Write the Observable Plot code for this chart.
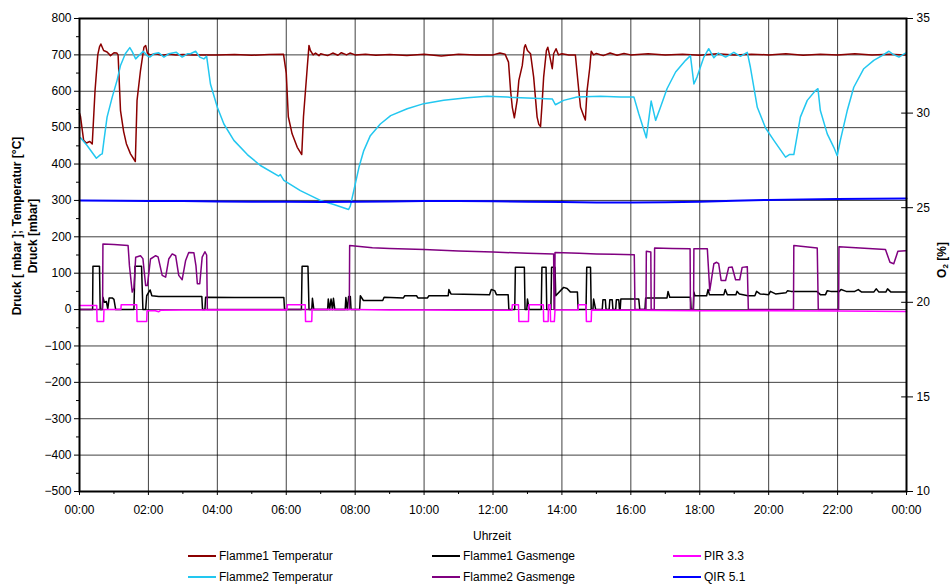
<!DOCTYPE html>
<html><head><meta charset="utf-8">
<script src="https://cdn.jsdelivr.net/npm/d3@7"></script>
<script src="https://cdn.jsdelivr.net/npm/@observablehq/plot@0.6"></script>
<style>
body{margin:0;background:#fff;font-family:"Liberation Sans",Arial,sans-serif;}
#wrap{position:relative;width:952px;height:584px;overflow:hidden;}
.leg{position:absolute;font-size:12px;color:#000;white-space:nowrap;display:flex;align-items:center;}
.leg span.sw{display:inline-block;width:28px;height:0;border-top:2px solid;margin-right:3px;}
</style></head><body><div id="wrap"></div>
<script>
// ---- data: [hour, value] ----
const f1Temp = [[0.0,540],[0.03,530],[0.12,465],[0.2,458],[0.3,462],[0.37,455],[0.45,600],[0.53,700],[0.58,722],[0.62,730],[0.7,712],[0.8,708],[0.9,698],[1.0,706],[1.08,705],[1.12,700],[1.19,547],[1.28,490],[1.36,456],[1.48,428],[1.62,407],[1.67,575],[1.77,657],[1.87,721],[1.92,726],[1.97,705],[2.05,700],[2.2,703],[2.4,699],[2.6,702],[2.8,700],[3.0,701],[3.3,700],[3.6,700],[4.0,700],[4.5,701],[5.0,699],[5.5,701],[5.92,702],[6.0,650],[6.06,530],[6.17,483],[6.32,446],[6.45,426],[6.5,530],[6.61,666],[6.66,726],[6.7,712],[6.78,700],[6.85,705],[6.95,698],[7.0,703],[7.2,698],[7.35,705],[7.5,699],[7.6,706],[7.75,700],[7.85,705],[8.0,700],[8.3,702],[8.6,699],[9.0,701],[9.5,698],[10.0,702],[10.5,697],[11.0,702],[11.5,700],[12.0,700],[12.2,705],[12.35,702],[12.45,680],[12.51,602],[12.56,556],[12.62,527],[12.7,575],[12.75,630],[12.85,671],[12.91,721],[12.94,728],[13.0,712],[13.09,703],[13.18,639],[13.28,529],[13.33,509],[13.38,503],[13.43,575],[13.47,639],[13.55,712],[13.59,721],[13.64,700],[13.72,662],[13.76,703],[13.83,717],[13.9,700],[14.0,703],[14.2,700],[14.39,700],[14.49,602],[14.54,556],[14.63,533],[14.68,521],[14.73,602],[14.81,666],[14.85,710],[14.92,700],[15.0,704],[15.2,698],[15.4,705],[15.6,699],[15.8,704],[16.0,700],[16.5,703],[17.0,700],[17.5,702],[18.0,699],[18.5,703],[19.0,700],[19.5,702],[20.0,700],[20.5,703],[21.0,699],[21.5,702],[22.0,700],[22.5,703],[23.0,700],[23.5,702],[23.97,700]];

const f2Temp = [[0.03,472],[0.22,451],[0.49,416],[0.61,426],[0.66,428],[0.71,465],[0.8,529],[0.95,584],[1.09,630],[1.19,671],[1.33,703],[1.46,720],[1.53,709],[1.63,689],[1.72,698],[1.85,710],[1.96,698],[2.04,694],[2.16,703],[2.3,706],[2.45,694],[2.59,703],[2.81,707],[2.98,694],[3.13,703],[3.22,703],[3.37,710],[3.49,694],[3.61,689],[3.69,696],[3.8,620],[4.0,556],[4.19,510],[4.48,465],[4.87,426],[5.25,396],[5.78,367],[5.83,371],[5.93,355],[6.41,327],[6.99,300],[7.38,289],[7.81,275],[7.86,285],[7.96,327],[8.11,391],[8.25,437],[8.44,478],[8.73,510],[9.03,533],[9.51,552],[9.99,566],[10.57,575],[11.25,582],[11.83,586],[12.41,584],[13.18,581],[13.72,579],[13.81,563],[14.05,575],[14.44,584],[15.12,586],[15.7,584],[16.09,584],[16.23,538],[16.45,472],[16.59,573],[16.72,520],[16.86,556],[17.05,607],[17.3,653],[17.59,685],[17.73,698],[17.83,620],[17.92,639],[18.12,694],[18.26,717],[18.41,692],[18.54,705],[18.75,694],[18.99,707],[19.18,696],[19.38,707],[19.47,666],[19.67,556],[19.91,499],[20.15,465],[20.49,419],[20.6,426],[20.73,426],[20.92,529],[21.12,575],[21.36,602],[21.43,607],[21.5,547],[21.7,483],[21.89,446],[21.99,423],[22.08,465],[22.28,547],[22.47,611],[22.76,662],[23.05,685],[23.29,698],[23.49,710],[23.6,702],[23.78,694],[23.97,705]];

const f1Gas = [[0,0],[0.38,0],[0.39,119],[0.58,119],[0.6,0],[0.66,0],[0.68,34],[0.72,20],[0.78,22],[0.82,2],[0.86,32],[0.95,32],[1.0,28],[1.05,0],[1.58,0],[1.61,119],[1.8,119],[1.84,0],[1.92,0],[1.95,38],[2.05,54],[2.1,38],[2.3,36],[3.0,36],[3.55,36],[3.57,0],[3.64,0],[3.66,34],[4.5,33],[5.5,33],[5.93,33],[5.95,0],[6.44,0],[6.46,119],[6.63,119],[6.66,0],[6.74,0],[6.76,31],[6.8,0],[7.2,0],[7.22,29],[7.26,0],[7.3,29],[7.34,0],[7.37,31],[7.41,0],[7.71,0],[7.73,33],[7.77,0],[7.81,36],[7.86,36],[7.88,0],[8.13,0],[8.15,38],[8.24,25],[8.8,25],[8.84,34],[9.4,32],[9.44,38],[9.78,38],[9.82,32],[10.1,32],[10.14,38],[10.7,38],[10.72,55],[10.78,43],[11.9,41],[11.95,55],[12.05,52],[12.1,41],[12.44,41],[12.46,0],[12.63,0],[12.65,116],[12.91,116],[12.93,0],[12.98,0],[13.0,29],[13.05,0],[13.4,0],[13.42,116],[13.54,116],[13.56,0],[13.68,0],[13.7,116],[13.8,116],[13.82,38],[14.05,61],[14.15,58],[14.25,48],[14.45,48],[14.47,0],[14.7,0],[14.72,116],[14.83,116],[14.85,0],[14.9,0],[14.92,29],[14.98,0],[15.17,0],[15.19,27],[15.26,27],[15.28,0],[15.37,0],[15.39,27],[15.46,27],[15.48,0],[15.56,0],[15.58,27],[15.65,27],[15.67,0],[15.69,0],[15.71,29],[16.23,29],[16.26,0],[16.41,0],[16.43,32],[17.05,32],[17.08,50],[17.13,34],[17.73,34],[17.75,0],[17.81,0],[17.83,48],[17.86,38],[18.2,38],[18.24,55],[18.28,41],[18.7,41],[18.74,55],[18.8,41],[19.05,41],[19.08,50],[19.15,43],[19.4,38],[19.6,38],[19.65,50],[19.75,43],[20.0,41],[20.05,50],[20.2,43],[20.5,46],[20.55,52],[20.65,50],[21.4,50],[21.5,41],[21.65,41],[21.7,52],[21.8,50],[22.05,50],[22.1,55],[22.25,50],[22.5,50],[22.6,55],[22.7,48],[23.05,48],[23.12,57],[23.2,48],[23.4,48],[23.45,57],[23.55,48],[24,48]];

const f2Gas = [[0,0],[0.67,0],[0.68,180],[1.0,179],[1.41,176],[1.45,120],[1.53,48],[1.58,60],[1.63,144],[1.77,148],[1.84,140],[1.92,66],[1.97,66],[2.06,139],[2.21,148],[2.28,145],[2.4,94],[2.5,89],[2.59,139],[2.69,153],[2.79,148],[2.88,94],[2.98,82],[3.08,135],[3.17,157],[3.32,156],[3.38,120],[3.42,71],[3.49,71],[3.56,144],[3.64,159],[3.69,150],[3.71,0],[7.83,0],[7.84,176],[8.5,170],[9.0,168],[10.0,165],[11.0,161],[12.0,158],[13.0,155],[13.76,153],[13.77,0],[13.79,0],[13.8,157],[14.5,155],[15.0,153],[15.5,152],[16.1,151],[16.12,0],[16.44,0],[16.45,160],[16.58,158],[16.59,0],[16.68,0],[16.69,169],[17.2,168],[17.72,167],[17.73,0],[17.82,0],[17.83,167],[18.22,167],[18.29,52],[18.41,126],[18.49,130],[18.55,126],[18.62,80],[18.75,80],[18.84,116],[18.94,117],[19.04,82],[19.16,82],[19.23,116],[19.38,118],[19.41,0],[20.72,0],[20.73,176],[21.41,169],[21.44,0],[22.03,0],[22.04,173],[23.39,165],[23.52,130],[23.63,126],[23.75,160],[23.97,162]];

const pir = [[0,11],[0.5,11],[0.51,-33],[0.7,-33],[0.71,0],[1.2,0],[1.21,13],[1.66,13],[1.67,-33],[1.95,-33],[1.96,-3],[2.2,-3],[2.3,-6],[2.35,-2],[3.0,-1],[4.0,-1],[5.0,-1],[6.02,-1],[6.03,13],[6.55,13],[6.56,-33],[6.74,-33],[6.75,0],[8.0,0],[9.0,-1],[10.0,-1],[11.0,-2],[12.0,-2],[12.55,-2],[12.56,13],[12.74,13],[12.75,-33],[13.03,-33],[13.04,13],[13.46,13],[13.47,-33],[13.6,-33],[13.61,13],[13.66,13],[13.67,-33],[13.78,-33],[13.8,-1],[14.47,-1],[14.48,13],[14.7,13],[14.71,-33],[14.85,-33],[14.86,-1],[16,-2],[18,-3],[20,-3],[22,-4],[24,-5]];

// QIR 5.1 in O2 [%] (right axis)
const qirO2 = [[0,25.38],[1,25.37],[2,25.36],[3,25.35],[4,25.33],[5,25.32],[6,25.31],[7,25.3],[8,25.32],[9,25.33],[10,25.35],[11,25.35],[12,25.34],[13,25.32],[14,25.3],[15,25.28],[16,25.28],[17,25.29],[18,25.32],[19,25.37],[20,25.41],[21,25.44],[22,25.46],[23,25.47],[24,25.48]];

const seriesNames = ["Flamme1 Temperatur","Flamme2 Temperatur","Flamme1 Gasmenge","Flamme2 Gasmenge","PIR 3.3","QIR 5.1"];
const seriesColors = ["#8B0000","#22C7F0","#000000","#800080","#FF00FF","#0000FF"];
const leftTicks = d3.range(-500, 801, 100);
const rightTicks = [10, 15, 20, 25, 30, 35];
const hourTicks = d3.range(0, 25, 2);

// right axis (O2 %) mapped onto left scale: 10% -> -500, 35% -> 800
const o2ToLeft = o => -500 + (o - 10) * (1300 / 25);
const leftToO2 = v => 10 + (v + 500) * (25 / 1300);
const fmtHour = h => String(h % 24).padStart(2, "0") + ":00";

const toRows = arr => arr.map(([h, v]) => ({h, v}));
const qirLeft = qirO2.map(([h, o]) => ({h, v: o2ToLeft(o)}));
const dataSets = [toRows(f1Temp), toRows(f2Temp), toRows(f1Gas), toRows(f2Gas), toRows(pir), qirLeft];
const widths = [1.5, 1.5, 1.5, 1.5, 1.5, 2];

const lineMarks = dataSets.map((d, i) =>
  Plot.line(d, {x: "h", y: "v", stroke: seriesColors[i], strokeWidth: widths[i], strokeLinejoin: "round"}));

const chart = Plot.plot({
  width: 952, height: 545,
  marginLeft: 79, marginRight: 46, marginTop: 18, marginBottom: 54,
  style: {fontFamily: "'Liberation Sans', Arial, sans-serif", fontSize: "12px", background: "#fff", color: "#000"},
  x: {domain: [0, 24]},
  y: {domain: [-500, 800]},
  marks: [
    Plot.gridX({ticks: d3.range(2, 24, 2), stroke: "#000", strokeOpacity: 0.75, strokeWidth: 1}),
    Plot.gridY({ticks: d3.range(-400, 800, 100), stroke: "#000", strokeOpacity: 0.75, strokeWidth: 1}),
    ...lineMarks,
    Plot.axisY({ticks: leftTicks, tickSize: 5, tickPadding: 3, label: null, fontSize: 12}),
    Plot.axisY({ticks: d3.range(-450, 800, 100), tickSize: 3, tickFormat: () => "", label: null}),
    Plot.axisY({anchor: "right", ticks: rightTicks.map(o2ToLeft), tickSize: 6, tickPadding: 4,
      tickFormat: v => String(Math.round(leftToO2(v))), label: null, fontSize: 12}),
    Plot.ruleY(rightTicks.map(o2ToLeft), {x1: 23.86, x2: 24, stroke: "#000", strokeWidth: 1}),
    Plot.axisX({ticks: hourTicks, tickSize: 4, tickPadding: 10, tickFormat: fmtHour, label: null, fontSize: 12}),
    Plot.axisX({ticks: d3.range(1, 24, 2), tickSize: 3, tickFormat: () => "", label: null}),
    Plot.frame({stroke: "#000", strokeWidth: 2})
  ]
});

const wrap = document.getElementById("wrap");
wrap.appendChild(chart);

// axis titles
const svg = d3.select(chart);
svg.append("text").attr("transform", "translate(21,226) rotate(-90)").attr("text-anchor", "middle")
  .attr("font-weight", "bold").attr("font-size", 12).text("Druck [ mbar ]; Temperatur [°C]");
svg.append("text").attr("transform", "translate(37,236) rotate(-90)").attr("text-anchor", "middle")
  .attr("font-weight", "bold").attr("font-size", 12).text("Druck [mbar]");
const o2 = svg.append("text").attr("transform", "translate(946,260) rotate(-90)").attr("text-anchor", "middle")
  .attr("font-weight", "bold").attr("font-size", 12);
o2.append("tspan").text("O");
o2.append("tspan").attr("font-size", 8).attr("dy", 2).text("2");
o2.append("tspan").attr("dy", -2).text(" [%]");
svg.append("text").attr("x", 492).attr("y", 540).attr("text-anchor", "middle")
  .attr("font-size", 12).text("Uhrzeit");

// legend
const legCols = [188, 432, 673];
const legRows = [557, 578];
const legOrder = [[0,0],[0,1],[1,0],[1,1],[2,0],[2,1]]; // [col,row] for each series
seriesNames.forEach((name, i) => {
  const [c, r] = legOrder[i];
  const div = document.createElement("div");
  div.className = "leg";
  div.style.left = legCols[c] + "px";
  div.style.top = (legRows[r] - 8) + "px";
  const sw = document.createElement("span");
  sw.className = "sw";
  sw.style.borderTopColor = seriesColors[i];
  div.appendChild(sw);
  div.appendChild(document.createTextNode(name));
  wrap.appendChild(div);
});
</script></body></html>
